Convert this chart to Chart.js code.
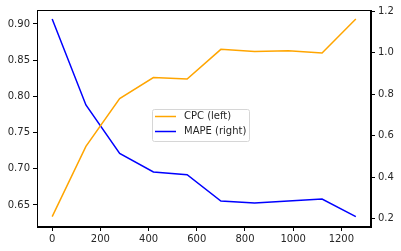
<!DOCTYPE html>
<html>
<head>
<meta charset="utf-8">
<script src="https://cdn.jsdelivr.net/npm/chart.js@4"></script>
<style>
  html, body { margin: 0; padding: 0; background: #fff; }
  #wrap { width: 401px; height: 251px; }
</style>
</head>
<body>
<div id="wrap"><canvas id="chart" width="401" height="251"></canvas></div>
<script>
// x positions (steps)
const steps = [0, 140, 280, 420, 560, 700, 840, 980, 1120, 1260];
// CPC, left axis
const cpcValues = [0.634, 0.731, 0.797, 0.826, 0.824, 0.865, 0.862, 0.863, 0.860, 0.907];
// MAPE, right axis
const mapeValues = [1.163, 0.748, 0.515, 0.425, 0.412, 0.285, 0.276, 0.285, 0.295, 0.210];

const xTicks = [0, 200, 400, 600, 800, 1000, 1200];
const leftTicks = [0.65, 0.70, 0.75, 0.80, 0.85, 0.90];
const rightTicks = [0.2, 0.4, 0.6, 0.8, 1.0, 1.2];

const seriesLabels = ["CPC (left)", "MAPE (right)"];
const seriesColors = ["#FFA500", "#0000FF"];

const FONT = "'DejaVu Sans', sans-serif";

function toPoints(xs, ys) {
    return xs.map((x, i) => ({ x: x, y: ys[i] }));
}

// frame around the plot + legend box in the middle
const framePlugin = {
    id: "frame",
    afterDraw(chart) {
        const { ctx, chartArea } = chart;
        ctx.save();
        ctx.strokeStyle = "#000";
        ctx.lineWidth = 1;
        ctx.strokeRect(chartArea.left + 0.5, chartArea.top + 0.5,
                       chartArea.right - chartArea.left - 1, chartArea.bottom - chartArea.top - 1);

        // legend
        const bx = 152.5, by = 109.5, bw = 97, bh = 32;
        ctx.fillStyle = "rgba(255,255,255,0.8)";
        ctx.strokeStyle = "#d6d6d6";
        ctx.beginPath();
        ctx.roundRect(bx, by, bw, bh, 2);
        ctx.fill();
        ctx.stroke();

        ctx.font = "10px " + FONT;
        ctx.textBaseline = "middle";
        ctx.textAlign = "left";
        const rows = [116.5, 131.5];
        chart.data.datasets.forEach((ds, i) => {
            ctx.strokeStyle = ds.borderColor;
            ctx.lineWidth = 1.5;
            ctx.beginPath();
            ctx.moveTo(155, rows[i]);
            ctx.lineTo(176, rows[i]);
            ctx.stroke();
            ctx.fillStyle = "#262626";
            ctx.fillText(ds.label, 184, rows[i]);
        });
        ctx.restore();
    }
};

new Chart(document.getElementById("chart"), {
    type: "line",
    data: {
        datasets: [
            {
                label: seriesLabels[0],
                data: toPoints(steps, cpcValues),
                borderColor: seriesColors[0],
                borderWidth: 1.5,
                pointRadius: 0,
                tension: 0,
                yAxisID: "yLeft"
            },
            {
                label: seriesLabels[1],
                data: toPoints(steps, mapeValues),
                borderColor: seriesColors[1],
                borderWidth: 1.5,
                pointRadius: 0,
                tension: 0,
                yAxisID: "yRight"
            }
        ]
    },
    options: {
        responsive: false,
        animation: false,
        layout: { padding: { top: 10, left: 0, right: 0, bottom: 0 } },
        plugins: {
            legend: { display: false },
            tooltip: { enabled: false }
        },
        scales: {
            x: {
                type: "linear",
                min: -63,
                max: 1323,
                afterBuildTicks: s => { s.ticks = xTicks.map(v => ({ value: v })); },
                afterFit: s => { s.height = 24; },
                grid: { drawOnChartArea: false, drawTicks: true, tickLength: 4, color: "#000" },
                border: { display: true, color: "#000" },
                ticks: {
                    color: "#262626",
                    font: { family: FONT, size: 10 },
                    padding: 2,
                    maxRotation: 0,
                    callback: v => String(v)
                }
            },
            yLeft: {
                type: "linear",
                position: "left",
                min: 0.6196,
                max: 0.9193,
                afterBuildTicks: s => { s.ticks = leftTicks.map(v => ({ value: v })); },
                afterFit: s => { s.width = 37; },
                grid: { drawOnChartArea: false, drawTicks: true, tickLength: 4, color: "#000" },
                border: { display: true, color: "#000" },
                ticks: {
                    color: "#262626",
                    font: { family: FONT, size: 10 },
                    padding: 3,
                    callback: v => v.toFixed(2)
                }
            },
            yRight: {
                type: "linear",
                position: "right",
                min: 0.160,
                max: 1.206,
                afterBuildTicks: s => { s.ticks = rightTicks.map(v => ({ value: v })); },
                afterFit: s => { s.width = 30; },
                grid: { drawOnChartArea: false, drawTicks: true, tickLength: 4, color: "#000" },
                border: { display: true, color: "#000" },
                ticks: {
                    color: "#262626",
                    font: { family: FONT, size: 10 },
                    padding: 3,
                    callback: v => v.toFixed(1)
                }
            }
        }
    },
    plugins: [framePlugin]
});
</script>
</body>
</html>
